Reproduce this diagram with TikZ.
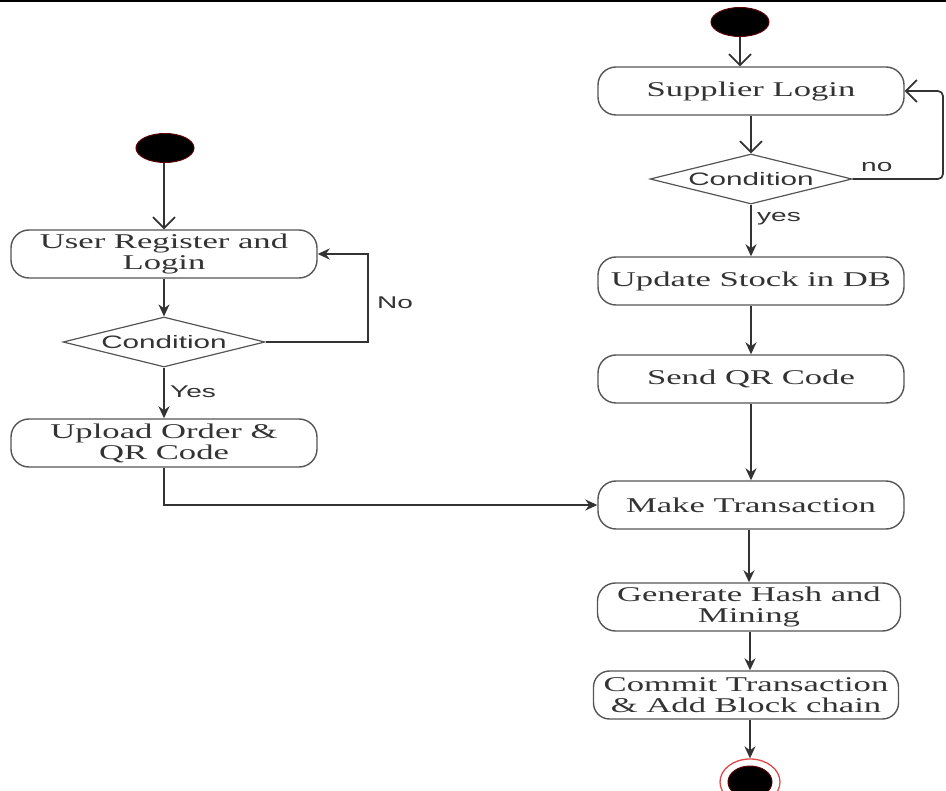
\documentclass[tikz,border=0pt]{standalone}
\usepackage{fontspec}
\setmainfont{Liberation Serif}[FakeStretch=1.65]
\setsansfont{Liberation Sans}[FakeStretch=1.65]
\usetikzlibrary{shapes.geometric,arrows.meta}
\definecolor{linegray}{HTML}{333333}
\definecolor{boxgray}{HTML}{555555}
\definecolor{dotred}{HTML}{5A0000}
\definecolor{ringred}{HTML}{E04848}

\begin{document}
\begin{tikzpicture}[x=1pt, y=-1pt,
    activity/.style={rectangle, rounded corners=18pt, draw=boxgray, line width=1.4pt, minimum width=306pt, minimum height=48pt, align=center, inner sep=2pt, text=linegray, font=\fontsize{21}{21}\selectfont},
    decision/.style={diamond, aspect=4, draw=boxgray, line width=1.2pt, minimum width=202pt, minimum height=50pt, inner sep=0pt, text=linegray, font=\sffamily\fontsize{18}{18}\selectfont},
    startdot/.style={ellipse, fill=black, draw=dotred, line width=1pt, minimum width=58pt, minimum height=29pt, inner sep=0pt},
    guard/.style={anchor=west, inner sep=1pt, text=linegray, font=\sffamily\fontsize{17}{17}\selectfont},
    arrow/.style={-{Stealth[length=12pt, width=11pt]}, line width=1.7pt, draw=linegray},
    openarrow/.style={-{Straight Barb[length=11pt, width=22pt]}, line width=1.7pt, draw=linegray}
]
\clip (0,0) rectangle (946,791);
\draw[line width=2.5pt] (0,1) -- (946,1);

% Right column: supplier
\node[startdot] (startR) at (740,22) {};
\node[activity] (supplier) at (751,91) {Supplier Login};
\node[decision] (condR) at (751,179) {Condition};
\node[guard] at (860,167) {no};
\node[guard] at (756,219) {yes};
\node[activity] (stock) at (751,281) {Update Stock in DB};
\node[activity] (sendqr) at (751,379) {Send QR Code};
\node[activity] (trans) at (751,505) {Make Transaction};
\node[activity, minimum width=303pt] (hash) at (749,607) {Generate Hash and\\Mining};
\node[activity, minimum width=305pt, rounded corners=16pt] (commit) at (746,695) {Commit Transaction\\\& Add Block chain};
\node[ellipse, draw=ringred, line width=1.3pt, minimum width=60pt, minimum height=46pt] (endring) at (750,782) {};
\node[ellipse, fill=black, draw=dotred, line width=1pt, minimum width=44pt, minimum height=32pt] (enddot) at (750,782) {};
\coordinate (loopR) at (943,135);

% Left column: user
\node[startdot] (startL) at (165,148) {};
\node[activity] (user) at (164,254) {User Register and\\Login};
\node[decision] (condL) at (164,342) {Condition};
\node[guard] at (376,303) {No};
\node[guard] at (169,392) {Yes};
\node[activity] (upload) at (164,443) {Upload Order \&\\QR Code};
\coordinate (loopL) at (368,300);

% Arrows
\draw[openarrow] (startR) -- (startR |- supplier.north);
\draw[openarrow] (supplier) -- (condR);
\draw[openarrow, rounded corners=5pt] (condR.east) -- (condR.east -| loopR) -- (supplier.east -| loopR) -- (supplier.east);
\draw[arrow] (condR) -- (stock);
\draw[arrow] (stock) -- (sendqr);
\draw[arrow] (sendqr) -- (trans);
\draw[arrow] (trans.south -| hash) -- (hash);
\draw[arrow] (hash.south -| endring) -- (endring |- commit.north);
\draw[arrow] (commit.south -| endring) -- (endring);

\draw[openarrow] (startL.south -| user) -- (user);
\draw[arrow] (user) -- (condL);
\draw[arrow] (condL.east) -- (condL.east -| loopL) -- (user.east -| loopL) -- (user.east);
\draw[arrow] (condL) -- (upload);
\draw[arrow] (upload.south) |- (trans.west);

\end{tikzpicture}
\end{document}
